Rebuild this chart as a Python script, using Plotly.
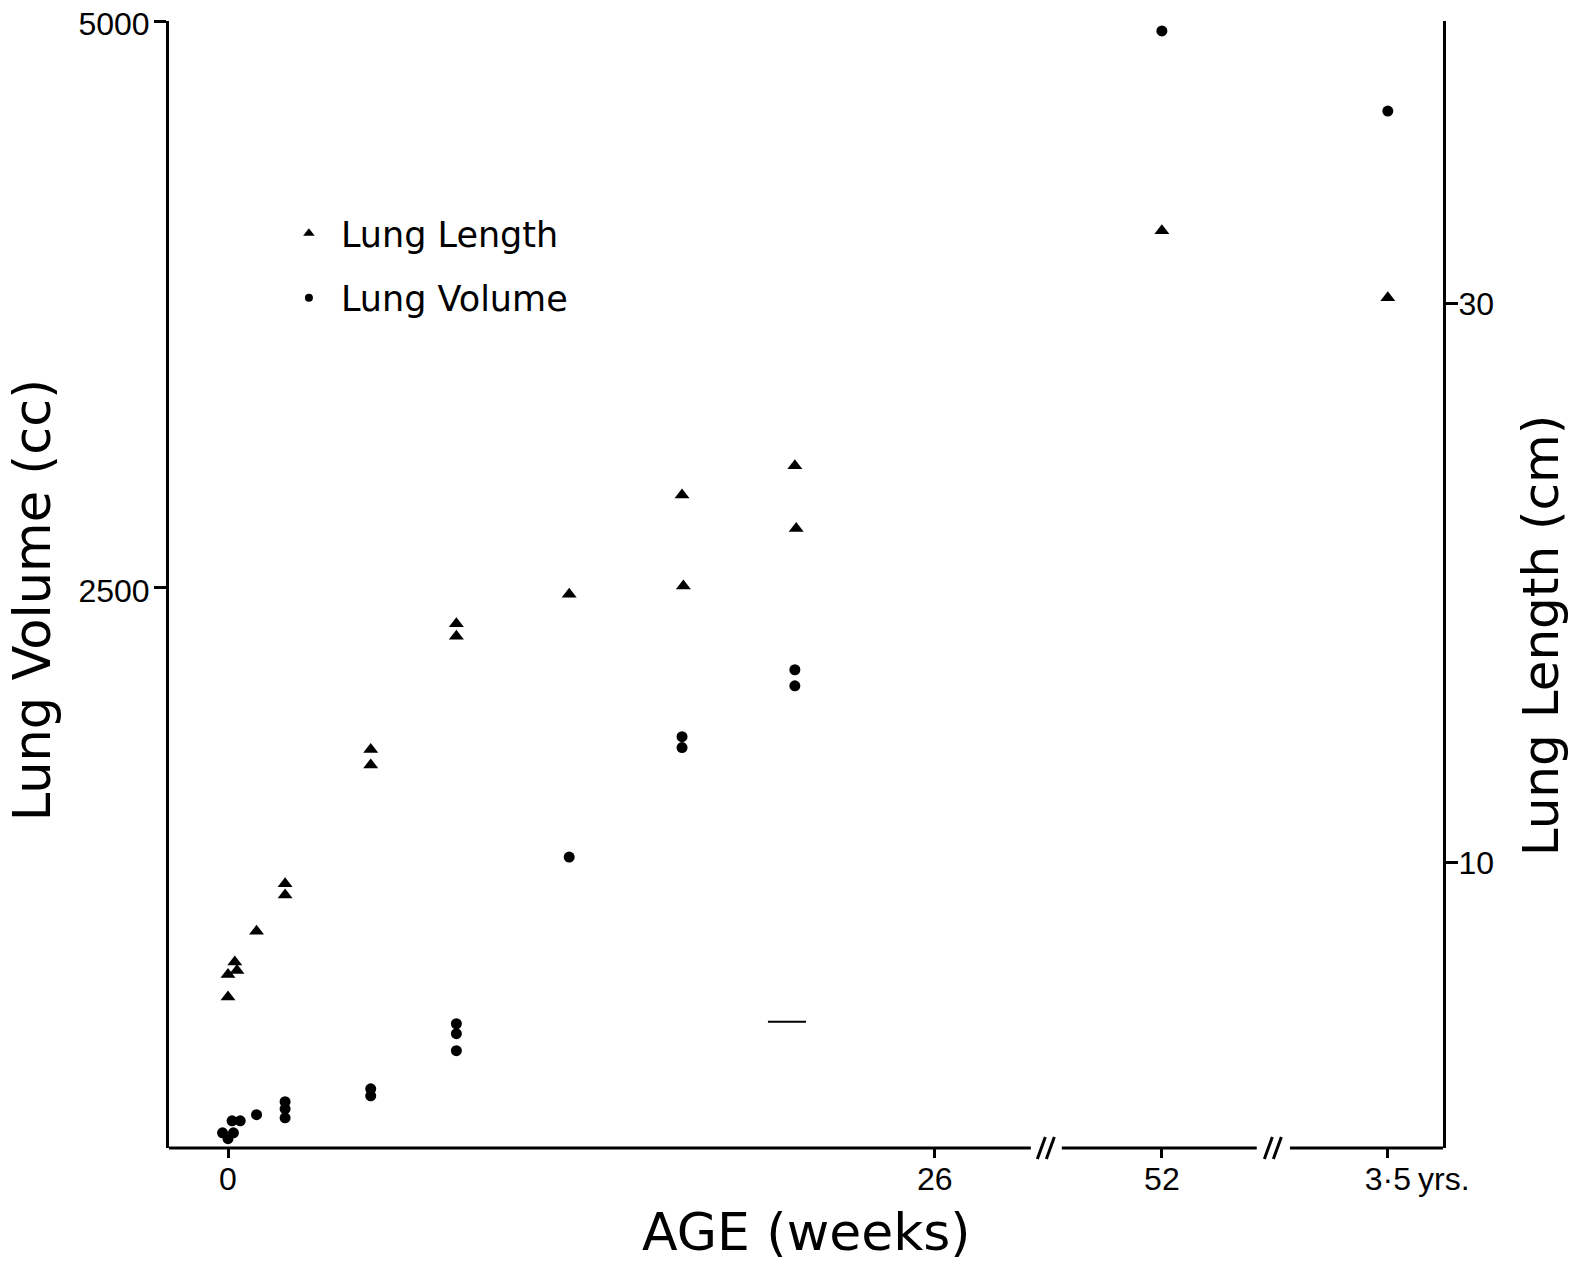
import plotly.graph_objects as go

# ---------------- data ----------------
# Lung length (cm), triangles, right axis
length_age_weeks = [0, 0, 0.25, 0.33, 1.05, 2.1, 2.1, 5.25, 5.25, 8.4, 8.4,
                    12.55, 16.7, 16.75, 20.85, 20.9, 52, 182]
length_cm = [6.0, 5.2, 6.45, 6.15, 7.55, 9.25, 8.85, 14.05, 13.5, 18.55, 18.1,
             19.6, 23.15, 19.9, 24.2, 21.95, 32.6, 30.2]

# Lung volume (cc), circles, left axis
volume_age_weeks = [-0.2, 0.2, 0.0, 0.15, 0.45, 1.05, 2.1, 2.1, 2.1, 5.25, 5.25,
                    8.4, 8.4, 8.4, 12.55, 16.7, 16.7, 20.85, 20.85, 52, 182]
volume_cc = [97, 97, 71, 150, 150, 177, 234, 203, 163, 291, 260,
             578, 534, 459, 1313, 1844, 1796, 2139, 2068, 4956, 4603]

x_tick_ages = [0, 26, 52, 182]          # 182 weeks = 3.5 years
x_tick_labels = ["0", "26", "52", "3·5"]
volume_ticks = [2500, 5000]
length_ticks = [10, 30]

# ---------------- broken x axis scale ----------------
# ages beyond 26 weeks are drawn on compressed segments after the "//" breaks
BROKEN_POSITION = {52: 34.35, 182: 42.66}
X_RANGE = [-2.17, 44.69]
AXIS_SEGMENTS = [(-2.17, 29.53), (30.67, 37.84), (39.06, 44.69)]


def to_axis(age):
    return BROKEN_POSITION.get(age, age)


FONT = "DejaVu Sans"
TICKFONT = dict(family="Liberation Sans", size=32, color="black")

fig = go.Figure()

fig.add_trace(go.Scatter(
    x=[to_axis(a) for a in length_age_weeks], y=length_cm, yaxis="y2",
    mode="markers", marker=dict(symbol="triangle-up", size=13, color="black"),
    showlegend=False, name="Lung Length"))
fig.add_trace(go.Scatter(
    x=[to_axis(a) for a in volume_age_weeks], y=volume_cc, yaxis="y",
    mode="markers", marker=dict(symbol="circle", size=11, color="black"),
    showlegend=False, name="Lung Volume"))

# legend entries (smaller symbols, as in the original key)
fig.add_trace(go.Scatter(x=[None], y=[None], mode="markers", name="Lung Length",
                         legendgroup="a",
                         marker=dict(symbol="triangle-up", size=10, color="black")))
fig.add_trace(go.Scatter(x=[None], y=[None], mode="markers", name="Lung Volume",
                         legendgroup="b",
                         marker=dict(symbol="circle", size=8, color="black")))

shapes = []
# bottom axis line with gaps
for a, b in AXIS_SEGMENTS:
    shapes.append(dict(type="line", xref="x", yref="paper", x0=a, x1=b, y0=0, y1=0,
                       line=dict(color="black", width=3)))
# "//" break marks
for i in range(len(AXIS_SEGMENTS) - 1):
    xm = (AXIS_SEGMENTS[i][1] + AXIS_SEGMENTS[i + 1][0]) / 2
    for dx in (-5, 4):
        shapes.append(dict(type="line", xref="x", yref="paper",
                           xsizemode="pixel", xanchor=xm,
                           ysizemode="pixel", yanchor=0,
                           x0=dx - 4, x1=dx + 4, y0=-11, y1=11,
                           line=dict(color="black", width=3)))
# stray short dash present in the original plot
shapes.append(dict(type="line", xref="x", yref="y", x0=19.86, x1=21.26, y0=587, y1=587,
                   line=dict(color="black", width=2)))

annotations = [
    dict(text="Lung Volume (cc)", textangle=-90, xref="paper", yref="paper",
         x=-0.1075, y=0.486, xanchor="center", yanchor="middle", showarrow=False,
         font=dict(family=FONT, size=51, color="black")),
    dict(text="Lung Length (cm)", textangle=-90, xref="paper", yref="paper",
         x=1.077, y=0.455, xanchor="center", yanchor="middle", showarrow=False,
         font=dict(family=FONT, size=50, color="black")),
    dict(text="AGE (weeks)", xref="paper", yref="paper", x=0.5, y=-0.0745,
         xanchor="center", yanchor="middle", showarrow=False,
         font=dict(family=FONT, size=52, color="black")),
    dict(text="yrs.", xref="x", yref="paper", x=to_axis(182), y=0, xanchor="left",
         yanchor="middle", xshift=28, yshift=-31, showarrow=False, font=TICKFONT),
]

fig.update_layout(
    width=1574, height=1267,
    margin=dict(l=169, r=131, t=21, b=119, autoexpand=False),
    paper_bgcolor="white", plot_bgcolor="white",
    showlegend=True,
    legend=dict(x=0.0847, y=0.8376, xanchor="left", yanchor="top",
                font=dict(family=FONT, size=35, color="black"),
                bgcolor="rgba(0,0,0,0)", tracegroupgap=16, traceorder="grouped",
                itemwidth=54),
    xaxis=dict(range=X_RANGE, showgrid=False, zeroline=False, showline=False,
               automargin=False, ticklabeloverflow="allow",
               tickmode="array", tickvals=[to_axis(a) for a in x_tick_ages],
               ticktext=x_tick_labels, ticks="outside", ticklen=9, tickwidth=3,
               tickcolor="black", tickfont=TICKFONT, ticklabelstandoff=-6),
    yaxis=dict(range=[30, 5000], showgrid=False, zeroline=False, showline=True,
               automargin=False, ticklabeloverflow="allow",
               linewidth=3, linecolor="black", tickmode="array", tickvals=volume_ticks,
               ticks="outside", ticklen=12, tickwidth=3, tickcolor="black",
               tickfont=TICKFONT, ticklabelstandoff=-2, ticklabelshift=3),
    yaxis2=dict(range=[-0.2, 40.1], overlaying="y", side="right", showgrid=False,
                automargin=False, ticklabeloverflow="allow",
                zeroline=False, showline=True, linewidth=3, linecolor="black",
                tickmode="array", tickvals=length_ticks, ticks="outside", ticklen=12,
                tickwidth=3, tickcolor="black", tickfont=TICKFONT,
                ticklabelstandoff=-6),
    shapes=shapes,
    annotations=annotations,
)

# remove the default page margin so the figure sits at the window's top-left corner
fig.write_html("out.html", config={"displayModeBar": False},
               post_script="document.body.style.margin='0';document.body.style.padding='0';")
